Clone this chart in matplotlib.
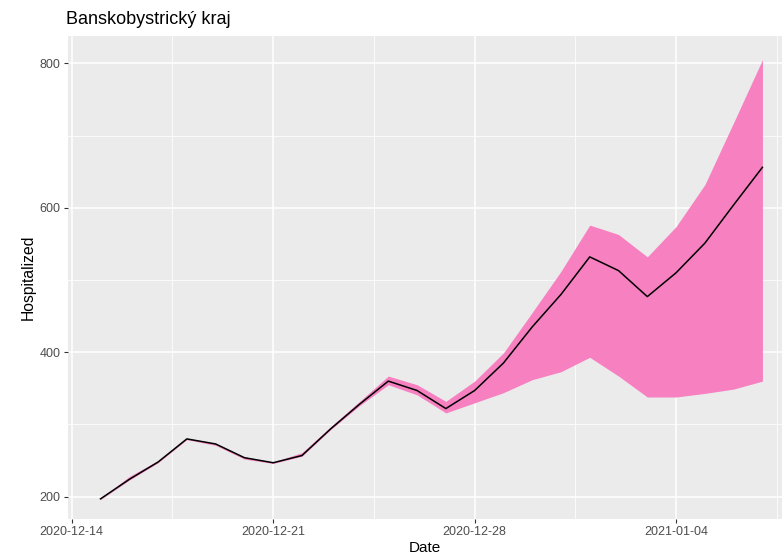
import numpy as np
import pandas as pd
import matplotlib
matplotlib.use("Agg")
import matplotlib.pyplot as plt
import matplotlib.dates as mdates
from matplotlib.ticker import FixedLocator, NullFormatter

plt.rcParams["font.family"] = ["Liberation Sans", "DejaVu Sans"]

# ── data ────────────────────────────────────────────────────────────────────
dates = pd.date_range("2020-12-15", "2021-01-07", freq="D")
hosp_mean = [197, 224, 248, 280, 273, 254, 247, 257, 294, 328, 360, 347,
             322, 347, 385, 435, 480, 532, 513, 477, 510, 551, 604, 656]
hosp_upper = [197, 228, 250, 281, 274, 255, 248, 261, 297, 332, 367, 355,
              332, 360, 399, 455, 512, 576, 563, 532, 574, 632, 718, 805]
hosp_lower = [196, 223, 247, 279, 271, 252, 246, 256, 293, 326, 355, 341,
              316, 330, 344, 362, 373, 393, 367, 338, 338, 343, 349, 360]
x_breaks = ["2020-12-14", "2020-12-21", "2020-12-28", "2021-01-04"]
y_breaks = [200, 400, 600, 800]

# ── colours (ggplot grey theme) ─────────────────────────────────────────────
C_PANEL = "#EBEBEB"
C_FILL = "#F680C0"
C_TICK = "#4D4D4D"

W, H = 782, 557
fig = plt.figure(figsize=(W / 100, H / 100), dpi=100)
ax = fig.add_axes([67.7 / W, (H - 519.3) / H, (W - 67.7) / W, 483.3 / H])
ax.set_facecolor(C_PANEL)

x = mdates.date2num(dates)
ax.fill_between(x, hosp_lower, hosp_upper, color=C_FILL, linewidth=0, zorder=2)
ax.plot(x, hosp_mean, color="black", linewidth=1.1, zorder=3)

xb = mdates.date2num(pd.to_datetime(x_breaks))
ax.set_xticks(xb)
ax.set_xticklabels(x_breaks)
ax.xaxis.set_minor_locator(FixedLocator(xb + 3.5))
ax.set_yticks(y_breaks)
ax.yaxis.set_minor_locator(FixedLocator([300, 500, 700]))
ax.yaxis.set_minor_formatter(NullFormatter())
ax.xaxis.set_minor_formatter(NullFormatter())

ax.set_xlim(xb[0] - 0.14, xb[-1] + 3.68)
ax.set_ylim(168.7, 837.8)

ax.grid(which="major", color="white", linewidth=1.1, zorder=0)
ax.grid(which="minor", color="white", linewidth=0.55, zorder=0)
ax.set_axisbelow(True)
for s in ax.spines.values():
    s.set_visible(False)
ax.tick_params(which="major", length=3, width=0.8, color="#333333",
               labelcolor=C_TICK, labelsize=9, pad=2)
ax.tick_params(which="minor", length=0)

ax.set_xlabel("Date", fontsize=11, labelpad=2)
ax.set_ylabel("Hospitalized", fontsize=11.3, labelpad=3)
fig.text(66 / W, 1 - 20 / H, "Banskobystrický kraj", fontsize=13,
         ha="left", va="center")

fig.savefig("out.png", dpi=100)
